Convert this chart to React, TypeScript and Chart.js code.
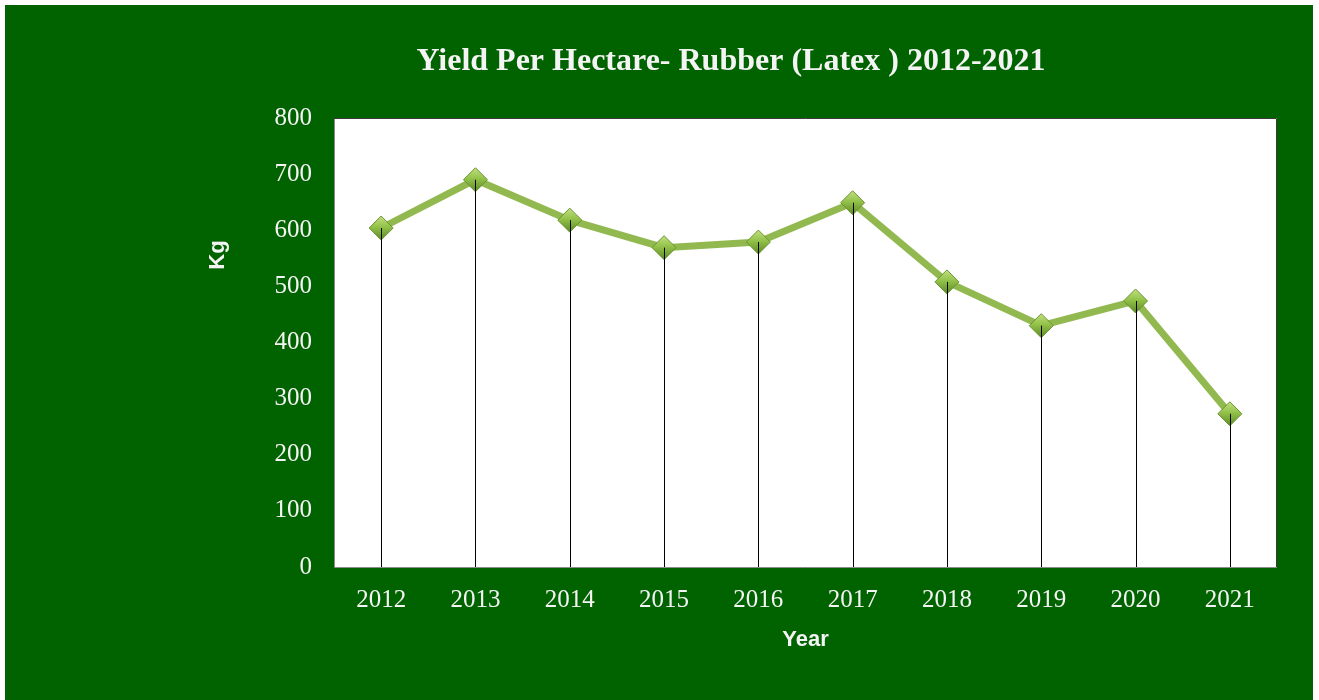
import React, { useEffect, useRef } from "react";
import { Chart, registerables } from "chart.js";

Chart.register(...registerables);

const years: string[] = ["2012", "2013", "2014", "2015", "2016", "2017", "2018", "2019", "2020", "2021"];
const yieldKg: number[] = [604, 690, 618, 569, 579, 649, 508, 430, 474, 273];
const chartTitle = "Yield Per Hectare- Rubber (Latex ) 2012-2021";
const yTitle = "Kg";
const xTitle = "Year";

const GREEN = "#006300";
const TEXT = "#f4f4f4";
const SERIF = "'Liberation Serif', 'Times New Roman', serif";
const SANS = "'Liberation Sans', Arial, sans-serif";
const MARKER_R = 12;

const bgPlugin = {
  id: "bgPlugin",
  beforeDraw(chart: any) {
    const { ctx, chartArea: a, width, height } = chart;
    ctx.save();
    ctx.fillStyle = GREEN;
    ctx.fillRect(0, 0, width, height);
    ctx.fillStyle = "#ffffff";
    ctx.fillRect(a.left, a.top, a.right - a.left, a.bottom - a.top);
    ctx.lineWidth = 1;
    ctx.strokeStyle = "#8c8c8c";
    ctx.beginPath();
    ctx.moveTo(a.left + 0.5, a.top);
    ctx.lineTo(a.left + 0.5, a.bottom + 0.5);
    ctx.lineTo(a.right, a.bottom + 0.5);
    ctx.stroke();
    ctx.strokeStyle = "#3a3a3a";
    ctx.beginPath();
    ctx.moveTo(a.left, a.top + 0.5);
    ctx.lineTo(a.right - 0.5, a.top + 0.5);
    ctx.lineTo(a.right - 0.5, a.bottom);
    ctx.stroke();
    ctx.restore();
  },
};

const dropLinePlugin = {
  id: "dropLines",
  afterDatasetsDraw(chart: any) {
    const { ctx, chartArea: a } = chart;
    const meta = chart.getDatasetMeta(0);
    ctx.save();
    ctx.strokeStyle = "#000000";
    ctx.lineWidth = 1;
    meta.data.forEach((pt: any) => {
      const x = Math.round(pt.x) + 0.5;
      ctx.beginPath();
      ctx.moveTo(x, pt.y);
      ctx.lineTo(x, a.bottom);
      ctx.stroke();
    });
    ctx.restore();
  },
};

const yTitlePlugin = {
  id: "yTitlePlugin",
  afterDraw(chart: any) {
    const { ctx } = chart;
    ctx.save();
    ctx.translate(213, 250);
    ctx.rotate(-Math.PI / 2);
    ctx.fillStyle = TEXT;
    ctx.font = `bold 22px ${SANS}`;
    ctx.textAlign = "center";
    ctx.textBaseline = "middle";
    ctx.fillText(yTitle, 0, 0);
    ctx.restore();
  },
};

function markerFill(c: any) {
  const chart = c.chart;
  const xs = chart.scales?.x;
  const ys = chart.scales?.y;
  if (!xs || !ys || c.parsed == null) return "#8cbc46";
  const x = xs.getPixelForValue(c.dataIndex);
  const y = ys.getPixelForValue(c.parsed.y);
  if (!isFinite(x) || !isFinite(y)) return "#8cbc46";
  const g = chart.ctx.createLinearGradient(x, y - MARKER_R, x, y + MARKER_R);
  g.addColorStop(0, "#c2e07f");
  g.addColorStop(0.45, "#93c24a");
  g.addColorStop(1, "#5e8a26");
  return g;
}

export default function App() {
  const ref = useRef<HTMLCanvasElement | null>(null);

  useEffect(() => {
    if (!ref.current) return;
    const chart = new Chart(ref.current, {
      type: "line",
      data: {
        labels: years,
        datasets: [
          {
            data: yieldKg,
            borderColor: "#92b950",
            borderWidth: 7,
            tension: 0,
            pointStyle: "rectRot",
            pointRadius: MARKER_R,
            pointBackgroundColor: markerFill as any,
            pointBorderColor: "#6a9431",
            pointBorderWidth: 1,
          },
        ],
      },
      options: {
        responsive: false,
        animation: false,
        layout: { padding: { left: 180, right: 36, top: 0, bottom: 0 } },
        plugins: {
          legend: { display: false },
          tooltip: { enabled: false },
          title: {
            display: true,
            text: chartTitle,
            color: TEXT,
            font: { family: SERIF, size: 32, weight: "bold" },
            padding: { top: 38, bottom: 36.6 },
          },
        },
        scales: {
          x: {
            offset: true,
            grid: { display: false, drawTicks: false },
            border: { display: false },
            ticks: { color: TEXT, font: { family: SERIF, size: 25 }, padding: 18, maxRotation: 0 },
            title: {
              display: true,
              text: xTitle,
              color: TEXT,
              font: { family: SANS, size: 22, weight: "bold" },
              padding: { top: 0, bottom: 47 },
            },
            afterFit(scale: any) {
              scale.height = 133;
            },
          },
          y: {
            min: 0,
            max: 800,
            grid: { display: false, drawTicks: false },
            border: { display: false },
            ticks: { stepSize: 100, color: TEXT, font: { family: SERIF, size: 25 }, padding: 22 },
            afterFit(scale: any) {
              scale.width = 149;
            },
          },
        },
      },
      plugins: [bgPlugin, dropLinePlugin, yTitlePlugin],
    });
    return () => chart.destroy();
  }, []);

  return (
    <div style={{ position: "absolute", left: 0, top: 0, width: 1319, height: 700, background: "#ffffff" }}>
      <div style={{ position: "absolute", left: 5, top: 5, width: 1308, height: 695, background: GREEN }}>
        <canvas ref={ref} width={1308} height={695} style={{ display: "block" }} />
      </div>
    </div>
  );
}
